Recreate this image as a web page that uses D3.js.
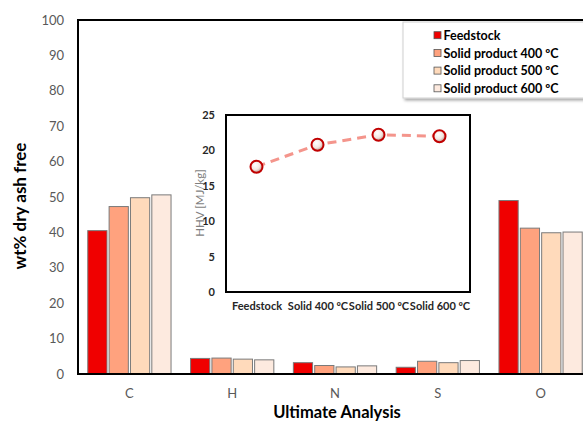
<!DOCTYPE html>
<html lang="en">
<head>
  <meta charset="UTF-8">
  <script src="https://d3js.org/d3.v7.min.js"></script>
  <title>Ultimate analysis</title>
  <style>
    body { margin: 0; background: #fff; }
    text { font-family: Lato, "Open Sans", sans-serif; }
  </style>
</head>
<body>
  <svg id="chart" width="583" height="423"></svg>
  <script>
    // main chart data
    const elements = ['C', 'H', 'N', 'S', 'O'];
    const seriesNames = ['Feedstock', 'Solid product 400 ºC', 'Solid product 500 ºC', 'Solid product 600 ºC'];
    const feedstock = [40.5, 4.4, 3.2, 1.9, 49.0];
    const solid400 = [47.3, 4.5, 2.4, 3.6, 41.2];
    const solid500 = [49.8, 4.2, 2.0, 3.2, 39.9];
    const solid600 = [50.6, 4.0, 2.3, 3.8, 40.1];
    const yTicks = [0, 10, 20, 30, 40, 50, 60, 70, 80, 90, 100];

    // inset data
    const hhvLabels = ['Feedstock', 'Solid 400 ºC', 'Solid 500 ºC', 'Solid 600 ºC'];
    const hhvValues = [17.7, 20.8, 22.2, 22.0];
    const hhvTicks = [0, 5, 10, 15, 20, 25];

    const colors = ['#f00000', '#ffa27e', '#ffdabb', '#fdeadf'];
    const allSeries = [feedstock, solid400, solid500, solid600];

    const svg = d3.select('#chart');
    svg.append('rect').attr('width', 583).attr('height', 423).attr('fill', '#fff');

    const x = d3.scaleBand().domain(elements).range([78, 592]).paddingInner(0.19).paddingOuter(0.095);
    const x1 = d3.scaleBand().domain(seriesNames).range([0, x.bandwidth()]).paddingInner(0.1);
    const y = d3.scaleLinear().domain([0, 100]).range([374, 20]);

    // bars
    const groups = svg.append('g').selectAll('g')
      .data(elements)
      .enter().append('g')
      .attr('transform', d => `translate(${x(d)},0)`);

    groups.selectAll('rect')
      .data((d, i) => seriesNames.map((s, j) => ({ s, v: allSeries[j][i], c: colors[j] })))
      .enter().append('rect')
      .attr('x', d => x1(d.s))
      .attr('y', d => y(d.v))
      .attr('width', x1.bandwidth())
      .attr('height', d => y(0) - y(d.v))
      .attr('fill', d => d.c)
      .attr('stroke', '#7a7a7a')
      .attr('stroke-width', 1);

    // frame lines
    svg.append('line').attr('x1', 78).attr('x2', 78).attr('y1', 19).attr('y2', 375)
      .attr('stroke', '#000').attr('stroke-width', 2);
    svg.append('line').attr('x1', 77).attr('x2', 600).attr('y1', 20).attr('y2', 20)
      .attr('stroke', '#000').attr('stroke-width', 2);
    svg.append('line').attr('x1', 77).attr('x2', 600).attr('y1', y(0)).attr('y2', y(0))
      .attr('stroke', '#000').attr('stroke-width', 2);

    // y axis labels
    const yAxis = svg.append('g').attr('transform', 'translate(78,0)')
      .call(d3.axisLeft(y).tickValues(yTicks).tickSize(0).tickPadding(14));
    yAxis.select('.domain').remove();
    yAxis.selectAll('text').attr('font-size', 13).attr('fill', '#595959')
      .style('font-family', 'Lato, sans-serif');

    // x axis labels
    const xAxis = svg.append('g').attr('transform', `translate(0,${y(0)})`)
      .call(d3.axisBottom(x).tickSize(0).tickPadding(15));
    xAxis.select('.domain').remove();
    xAxis.selectAll('text').attr('font-size', 13).attr('fill', '#595959')
      .style('font-family', 'Lato, sans-serif');

    svg.append('text')
      .attr('transform', 'translate(26,206) rotate(-90)')
      .attr('text-anchor', 'middle')
      .attr('font-size', 17).attr('font-weight', 'bold')
      .text('wt% dry ash free');

    svg.append('text')
      .attr('x', 337).attr('y', 418)
      .attr('text-anchor', 'middle')
      .attr('font-size', 16.5).attr('font-weight', 'bold')
      .text('Ultimate Analysis');

    // legend
    const defs = svg.append('defs');
    const shadow = defs.append('filter').attr('id', 'shadow')
      .attr('x', '-10%').attr('y', '-10%').attr('width', '130%').attr('height', '130%');
    shadow.append('feDropShadow').attr('dx', 2).attr('dy', 2).attr('stdDeviation', 1.5)
      .attr('flood-color', '#000').attr('flood-opacity', 0.35);

    svg.append('rect').attr('x', 403).attr('y', 22).attr('width', 200).attr('height', 76)
      .attr('fill', '#fff').attr('stroke', '#d0d0d0').attr('filter', 'url(#shadow)');

    const legend = svg.append('g').selectAll('g')
      .data(seriesNames)
      .enter().append('g')
      .attr('transform', (d, i) => `translate(434,${35.7 + i * 17.7})`);
    legend.append('rect')
      .attr('x', 0).attr('y', -4).attr('width', 7).attr('height', 7)
      .attr('fill', (d, i) => colors[i]).attr('stroke', '#555').attr('stroke-width', 0.8);
    legend.append('text')
      .attr('x', 9.5).attr('y', 0).attr('dy', '0.35em')
      .attr('font-size', 12.5).attr('font-weight', 'bold')
      .text(d => d);

    // inset chart
    const ix = d3.scalePoint().domain(hhvLabels).range([226, 470]).padding(0.5);
    const iy = d3.scaleLinear().domain([0, 25]).range([292, 115]);

    svg.append('rect').attr('x', 226).attr('y', 115).attr('width', 244).attr('height', 177)
      .attr('fill', '#fff').attr('stroke', '#000').attr('stroke-width', 2);

    const iyAxis = svg.append('g').attr('transform', 'translate(226,0)')
      .call(d3.axisLeft(iy).tickValues(hhvTicks).tickSize(0).tickPadding(11));
    iyAxis.select('.domain').remove();
    iyAxis.selectAll('text').attr('font-size', 11).attr('font-weight', 'bold').attr('fill', '#262626')
      .style('font-family', 'Lato, sans-serif');

    const ixAxis = svg.append('g').attr('transform', 'translate(0,292)')
      .call(d3.axisBottom(ix).tickSize(0).tickPadding(10));
    ixAxis.select('.domain').remove();
    ixAxis.selectAll('text').attr('font-size', 11).attr('font-weight', 'bold').attr('fill', '#262626')
      .style('font-family', 'Lato, sans-serif');

    svg.append('text')
      .attr('transform', 'translate(204,203) rotate(-90)')
      .attr('text-anchor', 'middle')
      .attr('font-size', 11.5).attr('fill', '#7f7f7f')
      .text('HHV [MJ/kg]');

    const grad = defs.append('radialGradient').attr('id', 'ball')
      .attr('cx', '40%').attr('cy', '35%').attr('r', '65%');
    grad.append('stop').attr('offset', '0%').attr('stop-color', '#ffffff');
    grad.append('stop').attr('offset', '60%').attr('stop-color', '#f3e6e0');
    grad.append('stop').attr('offset', '100%').attr('stop-color', '#b89890');

    const line = d3.line().x((d, i) => ix(hhvLabels[i])).y(d => iy(d));
    svg.append('path').datum(hhvValues)
      .attr('d', line)
      .attr('fill', 'none').attr('stroke', '#f4958c').attr('stroke-width', 3)
      .attr('stroke-dasharray', '9,6');

    svg.append('g').selectAll('circle')
      .data(hhvValues)
      .enter().append('circle')
      .attr('cx', (d, i) => ix(hhvLabels[i]))
      .attr('cy', d => iy(d))
      .attr('r', 6)
      .attr('fill', 'url(#ball)')
      .attr('stroke', '#c00000').attr('stroke-width', 2);
  </script>
</body>
</html>
